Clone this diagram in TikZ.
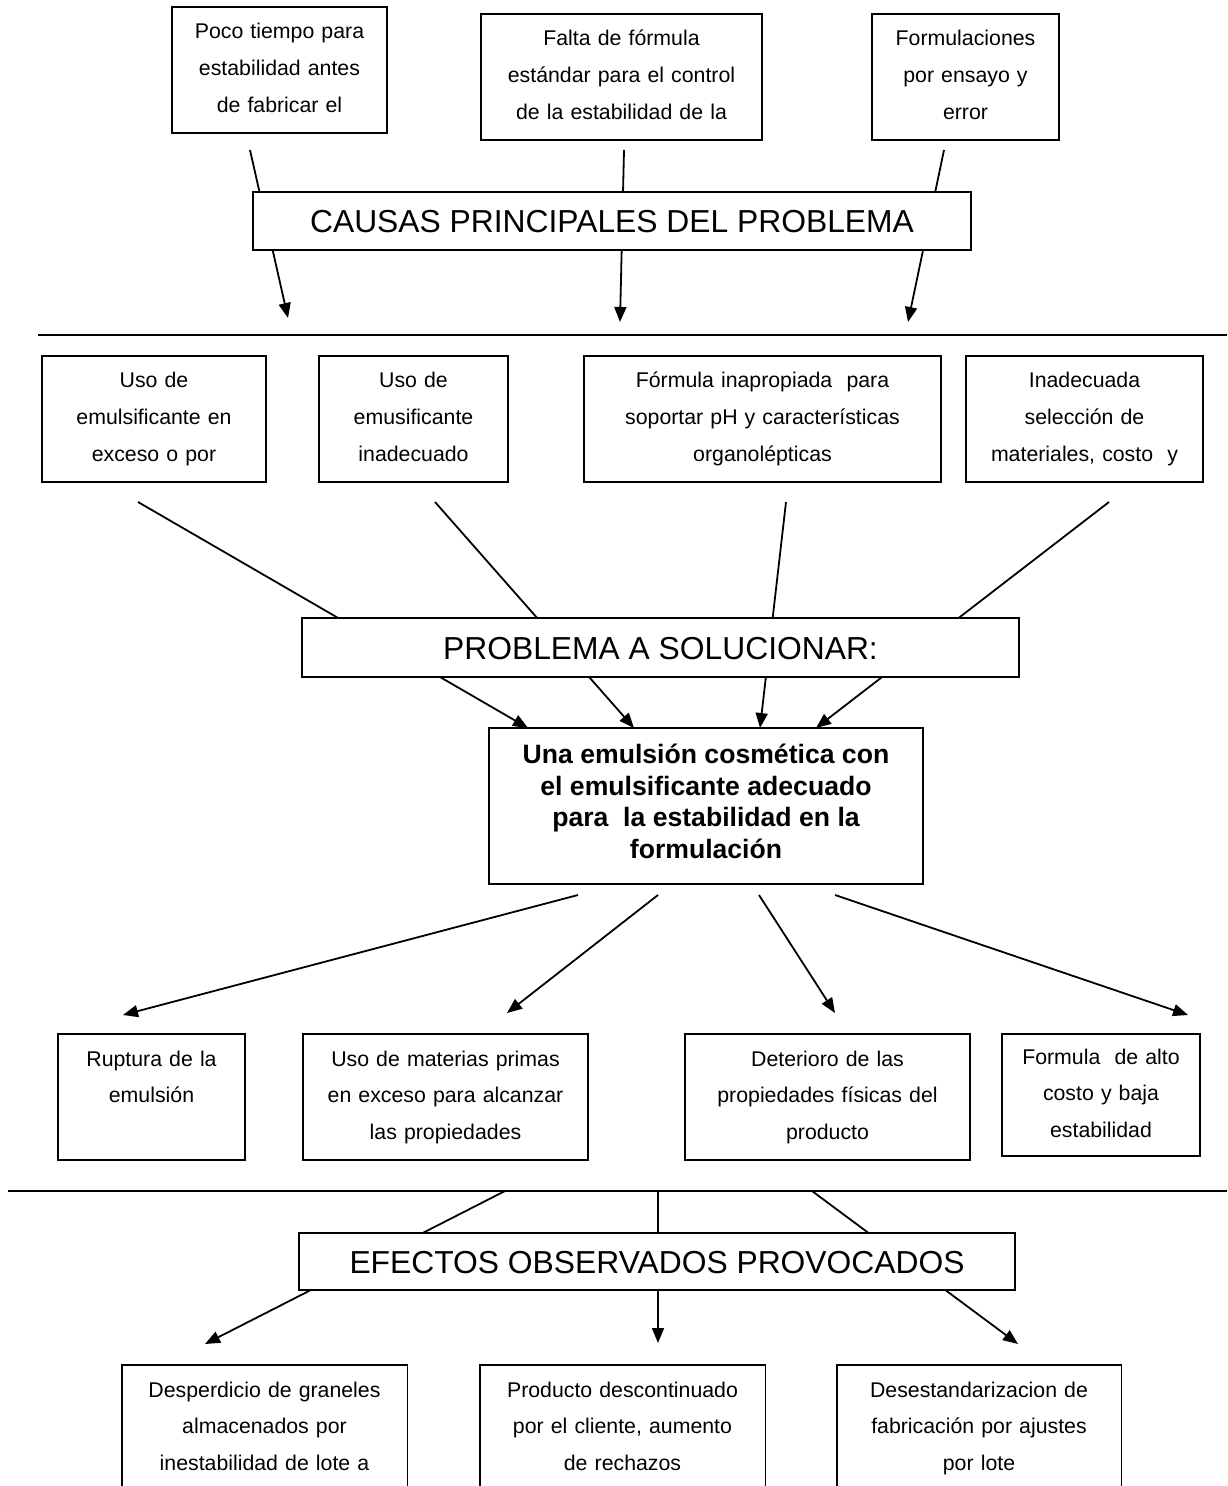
\documentclass[tikz,border=0pt]{standalone}
\usepackage{fontspec}
\setmainfont{Liberation Sans}
\usetikzlibrary{arrows.meta}
\pgfdeclarelayer{background}
\pgfsetlayers{background,main}
\newcommand\mytopstrut{\rule[-.3\baselineskip]{0pt}{\dimexpr\baselineskip+4pt\relax}}
\newcommand\boxtop{\rule{0pt}{12pt}}
\newcommand\boxbottom{\rule[-6.2pt]{0pt}{6.2pt}}
\begin{document}
\begin{tikzpicture}[x=0.5pt,y=-0.5pt,
  tbox/.style={draw,line width=0.9pt,fill=white,inner sep=0pt,
    font=\fontsize{15.9}{19}\selectfont,
    execute at begin node=\mytopstrut, execute at end node=\strut},
  cbox/.style={draw,line width=0.9pt,fill=white,align=center,inner sep=0pt,
    text width=#1,minimum width=#1,
    font=\fontsize{10.65}{18.4}\selectfont,
    execute at begin node=\boxtop, execute at end node=\boxbottom},
  openbox/.style={align=center,inner sep=0pt,
    text width=#1,minimum width=#1,
    font=\fontsize{10.65}{18.4}\selectfont,
    execute at begin node=\boxtop, execute at end node=\boxbottom},
  sbox/.style={draw,line width=0.9pt,fill=white,align=center,inner sep=0pt,
    font=\fontsize{13.3}{15.75}\selectfont\bfseries,
    execute at begin node=\mytopstrut, execute at end node=\strut},
  link/.style={line width=0.9pt},
  arr/.style={line width=0.9pt,-{Triangle[length=7.5pt,width=6pt]}},
]
\useasboundingbox (0,0) rectangle (1227,1486);
\coordinate (pb) at (0,1486);

% ---------- top causes ----------
\node[cbox=107.5pt,minimum height=63pt] (c1) at (279.5,70)
  {Poco tiempo para\\estabilidad antes\\de fabricar el};
\node[cbox=140.5pt,minimum height=63pt] (c2) at (621.5,77)
  {Falta de fórmula\\estándar para el control\\de la estabilidad de la};
\node[cbox=93.5pt,minimum height=63pt] (c3) at (965.5,77)
  {Formulaciones\\por ensayo y\\error};
\node[tbox,minimum width=359pt,minimum height=29pt] (causas) at (612,221)
  {CAUSAS PRINCIPALES DEL PROBLEMA};

% ---------- second row ----------
\node[cbox=112pt,minimum height=63pt] (u1) at (154,419)
  {Uso de\\emulsificante en\\exceso o por};
\node[cbox=94.5pt,minimum height=63pt] (u2) at (413.5,419)
  {Uso de\\emusificante\\inadecuado};
\node[cbox=178.5pt,minimum height=63pt] (u3) at (762.5,419)
  {Fórmula inapropiada\ \ para\\soportar pH y características\\organolépticas};
\node[cbox=118.5pt,minimum height=63pt] (u4) at (1084.5,419)
  {Inadecuada\\selección de\\materiales, costo\ \ y};

\node[tbox,minimum width=358.5pt,minimum height=29.5pt] (problema) at (660.5,647.5)
  {PROBLEMA A SOLUCIONAR:};

\node[sbox,minimum width=217pt,minimum height=78pt] (sol) at (706,806)
  {Una emulsión cosmética con\\el emulsificante adecuado\\para\ \ la estabilidad en la\\formulación};

% ---------- fourth row ----------
\node[cbox=93.5pt,minimum height=63pt] (r1) at (151.5,1097)
  {Ruptura de la\\emulsión\\\mbox{}};
\node[cbox=142.5pt,minimum height=63pt] (r2) at (445.5,1097)
  {Uso de materias primas\\en exceso para alcanzar\\las propiedades};
\node[cbox=142.5pt,minimum height=63pt] (r3) at (827.5,1097)
  {Deterioro de las\\propiedades físicas del\\producto};
\node[cbox=99pt,minimum height=61pt] (r4) at (1101,1095)
  {Formula\ \ de alto\\costo y baja\\estabilidad};

\node[tbox,minimum width=358pt,minimum height=28.5pt] (efectos) at (657,1261.5)
  {EFECTOS OBSERVADOS PROVOCADOS};

% ---------- bottom row (cut by the page edge) ----------
\node[openbox=142.5pt,minimum height=63pt] (e1) at (264.5,1428)
  {Desperdicio de graneles\\almacenados por\\inestabilidad de lote a};
\node[openbox=142.5pt,minimum height=63pt] (e2) at (622.5,1428)
  {Producto descontinuado\\por el cliente, aumento\\de rechazos};
\node[openbox=142pt,minimum height=63pt] (e3) at (979,1428)
  {Desestandarizacion de\\fabricación por ajustes\\por lote};
\foreach \n in {e1,e2,e3}
  \draw[line width=0.9pt] (\n.north west |- pb) -- (\n.north west) -- (\n.north east) -- (\n.north east |- pb);

% ---------- connectors ----------
\coordinate (a1s) at (250,150);  \coordinate (a1e) at (288,318);
\coordinate (a2s) at (624,150);  \coordinate (a2e) at (620,322);
\coordinate (a3s) at (944,150);  \coordinate (a3e) at (908,322);
\coordinate (h1a) at (38,335);   \coordinate (h1b) at (1227,335);
\coordinate (b1s) at (138,502);  \coordinate (b1e) at (528,728);
\coordinate (b2s) at (435,502);  \coordinate (b2e) at (634,728);
\coordinate (b3s) at (786,502);  \coordinate (b3e) at (760,728);
\coordinate (b4s) at (1109,502); \coordinate (b4e) at (816,728);
\coordinate (d1s) at (578,895);  \coordinate (d1e) at (123,1015);
\coordinate (d2s) at (658,895);  \coordinate (d2e) at (507,1013);
\coordinate (d3s) at (759,895);  \coordinate (d3e) at (835,1013);
\coordinate (d4s) at (835,895);  \coordinate (d4e) at (1188,1015);
\coordinate (h2a) at (8,1191);   \coordinate (h2b) at (1227,1191);
\coordinate (f1s) at (505,1191); \coordinate (f1e) at (205,1344);
\coordinate (f2s) at (658,1191); \coordinate (f2e) at (658,1343);
\coordinate (f3s) at (812,1191); \coordinate (f3e) at (1018,1344);

\begin{pgfonlayer}{background}
  \fill[white] (0,0) rectangle (1227,1486);
  \draw[arr] (a1s) -- (a1e);
  \draw[arr] (a2s) -- (a2e);
  \draw[arr] (a3s) -- (a3e);
  \draw[link] (h1a) -- (h1b);
  \draw[arr] (b1s) -- (b1e);
  \draw[arr] (b2s) -- (b2e);
  \draw[arr] (b3s) -- (b3e);
  \draw[arr] (b4s) -- (b4e);
  \draw[arr] (d1s) -- (d1e);
  \draw[arr] (d2s) -- (d2e);
  \draw[arr] (d3s) -- (d3e);
  \draw[arr] (d4s) -- (d4e);
  \draw[link] (h2a) -- (h2b);
  \draw[arr] (f1s) -- (f1e);
  \draw[arr] (f2s) -- (f2e);
  \draw[arr] (f3s) -- (f3e);
\end{pgfonlayer}
\end{tikzpicture}
\end{document}
